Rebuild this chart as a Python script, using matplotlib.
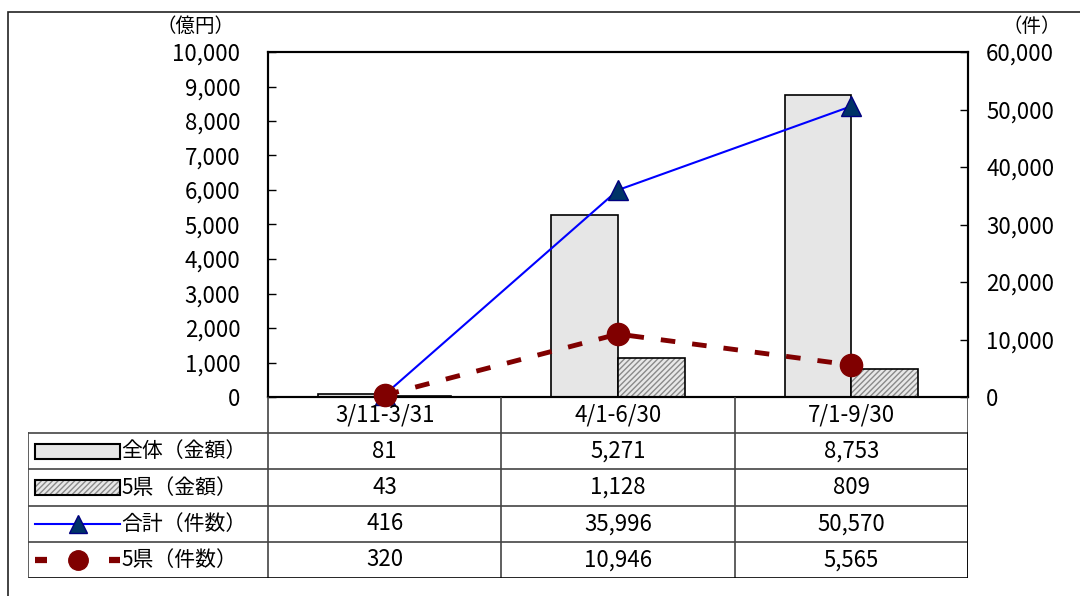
import numpy as np
import matplotlib
matplotlib.use('Agg')
import matplotlib.pyplot as plt
from matplotlib.patches import Rectangle
from matplotlib.ticker import FuncFormatter

plt.rcParams['font.family'] = ['Noto Sans CJK JP', 'DejaVu Sans']

periods = ['3/11-3/31', '4/1-6/30', '7/1-9/30']
amount_all = [81, 5271, 8753]      # 億円
amount_5pref = [43, 1128, 809]     # 億円
count_all = [416, 35996, 50570]    # 件
count_5pref = [320, 10946, 5565]   # 件
row_labels = ['全体（金額）', '5県（金額）', '合計（件数）', '5県（件数）']

fig = plt.figure(figsize=(10.8, 5.96), dpi=100)

# outer frame
fig.add_artist(Rectangle((8/1080, -0.05), 1.1, 0.05 + 1 - 12/596, transform=fig.transFigure,
                         fill=False, edgecolor='#222222', linewidth=1.2, clip_on=False))

W, H = 1080, 596
left, right, top, bottom = 268, 968, 52, 397
ax = fig.add_axes([left/W, 1 - bottom/H, (right-left)/W, (bottom-top)/H])
x = np.arange(len(periods))
bw = 0.286

ax.bar(x - bw/2, amount_all, bw, facecolor='#e6e6e6', edgecolor='black', linewidth=1.2)
ax.bar(x + bw/2, amount_5pref, bw, facecolor='#e8e8e8', edgecolor='#8a8a8a', hatch='//////', linewidth=0)
ax.bar(x + bw/2, amount_5pref, bw, fill=False, edgecolor='black', linewidth=1.2)

ax.set_xlim(-0.5, 2.5)
ax.set_ylim(0, 10000)
ax.set_yticks(np.arange(0, 10001, 1000))
ax.set_xticks([])
fmt = FuncFormatter(lambda v, p: f'{int(v):,}')
ax.yaxis.set_major_formatter(fmt)
ax.tick_params(axis='y', direction='in', length=6, width=1, pad=20, labelsize=16)
for s in ax.spines.values():
    s.set_linewidth(1.5)

ax2 = ax.twinx()
ax2.plot(x, count_all, color='#0000ff', linewidth=1.5, marker='^', markersize=15,
         markerfacecolor='#003366', markeredgecolor='#000080', clip_on=False, zorder=3)
ax2.plot(x, count_5pref, color='#800000', linewidth=3.5, linestyle=(0, (3, 3.5)), marker='o',
         markersize=16, markerfacecolor='#800000', markeredgecolor='#800000', clip_on=False, zorder=4)
ax2.set_ylim(0, 60000)
ax2.set_yticks(np.arange(0, 60001, 10000))
ax2.yaxis.set_major_formatter(fmt)
ax2.tick_params(axis='y', direction='in', length=6, width=1, pad=13, labelsize=16)
for s in ax2.spines.values():
    s.set_linewidth(1.5)

fig.text(195/W, 1 - 26/H, '（億円）', ha='center', va='center', fontsize=14)
fig.text(1032/W, 1 - 26/H, '（件）', ha='center', va='center', fontsize=14)

# data table below the plot
tab_top, tab_bot, tab_left = 397, 578, 28
tax = fig.add_axes([tab_left/W, 1 - tab_bot/H, (right-tab_left)/W, (tab_bot-tab_top)/H])
lab_w = (left - tab_left) / ((right - left) / 3)
tax.set_xlim(-0.5 - lab_w, 2.5)
tax.set_ylim(5, 0)
tax.axis('off')
lc = '#444444'
for b in [-0.5, 0.5, 1.5, 2.5]:
    tax.plot([b, b], [0, 5], color=lc, lw=1.2)
for i, p in enumerate(periods):
    tax.text(i, 0.5, p, ha='center', va='center', fontsize=16)
x0 = -0.5 - lab_w
for r in range(1, 6):
    tax.plot([x0, 2.5], [r, r], color=lc if r < 5 else 'black', lw=1.2)
tax.plot([x0, x0], [1, 5], color=lc, lw=1.2)
tax.plot([2.5, 2.5], [1, 5], color='black', lw=1.2)

data_rows = [amount_all, amount_5pref, count_all, count_5pref]
for r, vals in enumerate(data_rows):
    yc = r + 1.5
    for i, v in enumerate(vals):
        tax.text(i, yc, f'{v:,}', ha='center', va='center', fontsize=16)
    tax.text(x0 + 0.4, yc, row_labels[r], ha='left', va='center', fontsize=15)

# legend keys
kx0, kx1 = x0 + 0.03, x0 + 0.395
tax.add_patch(Rectangle((kx0, 1.3), kx1 - kx0, 0.4, facecolor='#e6e6e6', edgecolor='black', lw=1.5))
tax.add_patch(Rectangle((kx0, 2.3), kx1 - kx0, 0.4, facecolor='#e8e8e8', edgecolor='#8a8a8a',
                        hatch='//////', lw=0))
tax.add_patch(Rectangle((kx0, 2.3), kx1 - kx0, 0.4, fill=False, edgecolor='black', lw=1.5))
km = (kx0 + kx1) / 2
tax.plot([kx0, kx1], [3.5, 3.5], color='#0000ff', lw=1.5)
tax.plot([km], [3.5], marker='^', markersize=13, markerfacecolor='#003366', markeredgecolor='#000080')
seg = 0.05
tax.plot([kx0, kx0 + seg], [4.5, 4.5], color='#800000', lw=4.5, solid_capstyle='butt')
tax.plot([kx1 - seg, kx1], [4.5, 4.5], color='#800000', lw=4.5, solid_capstyle='butt')
tax.plot([km], [4.5], marker='o', markersize=14, color='#800000')

fig.savefig('out.png', dpi=100)
